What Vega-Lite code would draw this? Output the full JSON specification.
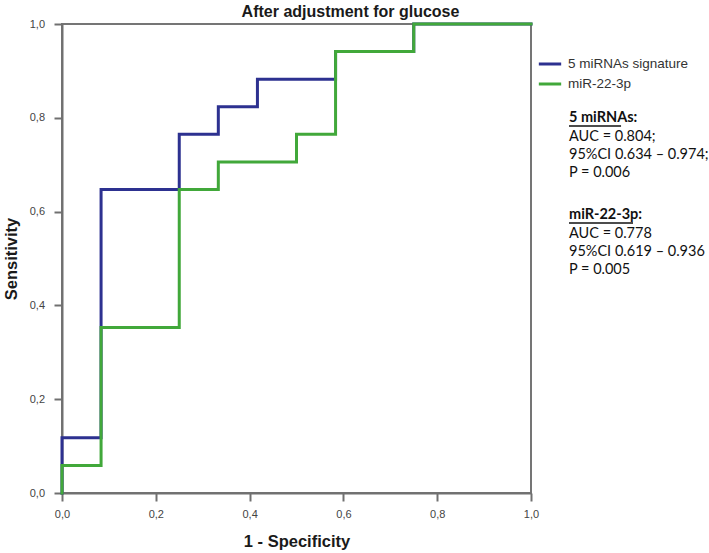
{
  "$schema": "https://vega.github.io/schema/vega-lite/v6.json",
  "width": 469,
  "height": 469,
  "autosize": {"type": "none"},
  "padding": {"left": 62, "top": 24, "right": 178, "bottom": 60},
  "background": "white",
  "title": {
    "text": "After adjustment for glucose",
    "font": "Liberation Sans",
    "fontSize": 16,
    "fontWeight": "bold",
    "color": "#1a1a1a",
    "anchor": "middle",
    "frame": "group",
    "dx": 54,
    "offset": -2
  },
  "config": {
    "view": {"stroke": "#757575", "strokeWidth": 2},
    "axis": {
      "grid": false,
      "labelFlush": false,
      "domainColor": "#707070",
      "domainWidth": 2,
      "tickColor": "#707070",
      "tickWidth": 2,
      "tickSize": 8,
      "labelFont": "Liberation Sans",
      "labelFontSize": 11,
      "labelColor": "#444444",
      "titleFont": "Liberation Sans",
      "titleFontSize": 16.5,
      "titleFontWeight": "bold",
      "titleColor": "#1a1a1a"
    },
    "legend": {
      "orient": "none",
      "legendX": 475,
      "legendY": 27,
      "padding": 0,
      "symbolType": "stroke",
      "symbolStrokeWidth": 3,
      "labelFont": "Liberation Sans",
      "labelFontSize": 13.5,
      "labelColor": "#333333",
      "labelOffset": 5,
      "labelLimit": 0,
      "rowPadding": 0,
      "symbolLimit": 0
    }
  },
  "datasets": {
    "roc": [
      {"series": "5 miRNAs signature", "step": 0, "fpr": 0, "tpr": 0},
      {"series": "5 miRNAs signature", "step": 1, "fpr": 0, "tpr": 0.1176},
      {"series": "5 miRNAs signature", "step": 2, "fpr": 0.0833, "tpr": 0.1176},
      {"series": "5 miRNAs signature", "step": 3, "fpr": 0.0833, "tpr": 0.6471},
      {"series": "5 miRNAs signature", "step": 4, "fpr": 0.25, "tpr": 0.6471},
      {"series": "5 miRNAs signature", "step": 5, "fpr": 0.25, "tpr": 0.7647},
      {"series": "5 miRNAs signature", "step": 6, "fpr": 0.3333, "tpr": 0.7647},
      {"series": "5 miRNAs signature", "step": 7, "fpr": 0.3333, "tpr": 0.8235},
      {"series": "5 miRNAs signature", "step": 8, "fpr": 0.4167, "tpr": 0.8235},
      {"series": "5 miRNAs signature", "step": 9, "fpr": 0.4167, "tpr": 0.8824},
      {"series": "5 miRNAs signature", "step": 10, "fpr": 0.5833, "tpr": 0.8824},
      {"series": "5 miRNAs signature", "step": 11, "fpr": 0.5833, "tpr": 0.9412},
      {"series": "5 miRNAs signature", "step": 12, "fpr": 0.75, "tpr": 0.9412},
      {"series": "5 miRNAs signature", "step": 13, "fpr": 0.75, "tpr": 1},
      {"series": "5 miRNAs signature", "step": 14, "fpr": 1, "tpr": 1},
      {"series": "miR-22-3p", "step": 0, "fpr": 0, "tpr": 0},
      {"series": "miR-22-3p", "step": 1, "fpr": 0, "tpr": 0.0588},
      {"series": "miR-22-3p", "step": 2, "fpr": 0.0833, "tpr": 0.0588},
      {"series": "miR-22-3p", "step": 3, "fpr": 0.0833, "tpr": 0.3529},
      {"series": "miR-22-3p", "step": 4, "fpr": 0.25, "tpr": 0.3529},
      {"series": "miR-22-3p", "step": 5, "fpr": 0.25, "tpr": 0.6471},
      {"series": "miR-22-3p", "step": 6, "fpr": 0.3333, "tpr": 0.6471},
      {"series": "miR-22-3p", "step": 7, "fpr": 0.3333, "tpr": 0.7059},
      {"series": "miR-22-3p", "step": 8, "fpr": 0.5, "tpr": 0.7059},
      {"series": "miR-22-3p", "step": 9, "fpr": 0.5, "tpr": 0.7647},
      {"series": "miR-22-3p", "step": 10, "fpr": 0.5833, "tpr": 0.7647},
      {"series": "miR-22-3p", "step": 11, "fpr": 0.5833, "tpr": 0.9412},
      {"series": "miR-22-3p", "step": 12, "fpr": 0.75, "tpr": 0.9412},
      {"series": "miR-22-3p", "step": 13, "fpr": 0.75, "tpr": 1},
      {"series": "miR-22-3p", "step": 14, "fpr": 1, "tpr": 1}
    ],
    "notes": [
      {"kind": "header", "text": "5 miRNAs:", "fpr": 1.081, "tpr": 0.7996},
      {"kind": "body", "text": "AUC = 0.804;", "fpr": 1.081, "tpr": 0.7591},
      {"kind": "body", "text": "95%CI 0.634 – 0.974;", "fpr": 1.081, "tpr": 0.7204},
      {"kind": "body", "text": "P = 0.006", "fpr": 1.081, "tpr": 0.6817},
      {"kind": "header", "text": "miR-22-3p:", "fpr": 1.081, "tpr": 0.5928},
      {"kind": "body", "text": "AUC = 0.778", "fpr": 1.081, "tpr": 0.5527},
      {"kind": "body", "text": "95%CI 0.619 – 0.936", "fpr": 1.081, "tpr": 0.5139},
      {"kind": "body", "text": "P = 0.005", "fpr": 1.081, "tpr": 0.4755}
    ],
    "underlines": [
      {"fpr": 1.081, "fpr2": 1.192, "tpr": 0.7825},
      {"fpr": 1.081, "fpr2": 1.2175, "tpr": 0.5757}
    ]
  },
  "encoding": {
    "x": {
      "field": "fpr", "type": "quantitative",
      "scale": {"domain": [0, 1], "nice": false, "zero": false},
      "axis": {
        "title": "1 - Specificity",
        "values": [0, 0.2, 0.4, 0.6, 0.8, 1],
        "labelExpr": "replace(format(datum.value, '.1f'), '.', ',')",
        "labelPadding": 7,
        "titleBaseline": "alphabetic",
        "titleY": 53
      }
    },
    "y": {
      "field": "tpr", "type": "quantitative",
      "scale": {"domain": [0, 1], "nice": false, "zero": false},
      "axis": {
        "title": "Sensitivity",
        "values": [0, 0.2, 0.4, 0.6, 0.8, 1],
        "labelExpr": "replace(format(datum.value, '.1f'), '.', ',')",
        "labelPadding": 9.5,
        "titleBaseline": "alphabetic",
        "titleX": -46,
        "titleY": 234.5,
        "titleAlign": "center",
        "titleAngle": -90
      }
    }
  },
  "layer": [
    {
      "data": {"name": "roc"},
      "mark": {"type": "line", "strokeWidth": 3, "strokeCap": "square", "strokeJoin": "miter"},
      "encoding": {
        "color": {
          "field": "series", "type": "nominal",
          "scale": {"domain": ["5 miRNAs signature", "miR-22-3p"], "range": ["#2d3190", "#41a83a"]},
          "legend": {"title": null, "symbolSize": 500}
        },
        "order": {"field": "step", "type": "quantitative"}
      }
    },
    {
      "data": {"name": "underlines"},
      "mark": {"type": "rule", "color": "#111111", "strokeWidth": 1.5},
      "encoding": {
        "x2": {"field": "fpr2"}
      }
    },
    {
      "data": {"name": "notes"},
      "transform": [{"filter": "datum.kind === 'header'"}],
      "mark": {"type": "text", "font": "Lato", "fontSize": 14.5, "fontWeight": "bold", "align": "left", "baseline": "middle", "color": "#111111"},
      "encoding": {
        "text": {"field": "text"}
      }
    },
    {
      "data": {"name": "notes"},
      "transform": [{"filter": "datum.kind === 'body'"}],
      "mark": {"type": "text", "font": "Lato", "fontSize": 14.5, "align": "left", "baseline": "middle", "color": "#111111"},
      "encoding": {
        "text": {"field": "text"}
      }
    }
  ]
}
